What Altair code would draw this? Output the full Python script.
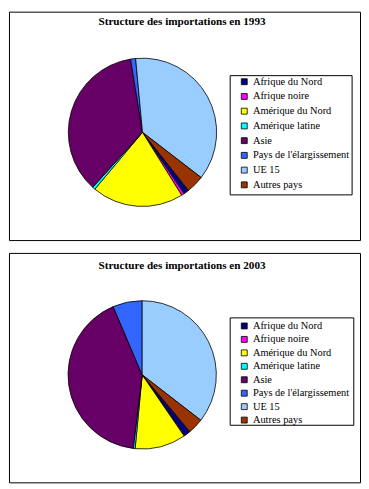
import math
import altair as alt
import pandas as pd

regions = ["Afrique du Nord", "Afrique noire", "Amérique du Nord", "Amérique latine",
           "Asie", "Pays de l'élargissement", "UE 15", "Autres pays"]
colors = ["#000080", "#FF00FF", "#FFFF00", "#00FFFF", "#660066", "#3366FF", "#99CCFF", "#993300"]
# drawing order, clockwise from the top
slice_order = ["UE 15", "Autres pays", "Afrique du Nord", "Afrique noire", "Amérique du Nord",
               "Amérique latine", "Asie", "Pays de l'élargissement"]

values_1993 = [1.2, 0.6, 20.0, 0.6, 35.8, 1.1, 37.0, 3.9]
values_2003 = [1.4, 0.15, 11.1, 0.4, 41.7, 6.4, 35.5, 3.4]

titles = ["Structure des importations en 1993", "Structure des importations en 2003"]

FONT = "Liberation Serif"


def panel(values, title, start_deg, cx, cy, leg_y, row_pad, box, height, title_y):
    df = pd.DataFrame({
        "region": regions,
        "value": values,
        "ord": [slice_order.index(r) for r in regions],
    })
    s = math.radians(start_deg)
    bx0, by0, bx1, by1 = box
    frame = alt.Chart(pd.DataFrame({"k": [0]})).mark_rect(
        fill="white", stroke="black", strokeWidth=1
    ).encode(x=alt.value(bx0), x2=alt.value(bx1), y=alt.value(by0), y2=alt.value(by1))
    pie = alt.Chart(df).mark_arc(outerRadius=75, stroke="black", strokeWidth=0.8).encode(
        theta=alt.Theta("value:Q", stack=True, scale=alt.Scale(range=[s, s + 2 * math.pi])),
        order=alt.Order("ord:Q"),
        color=alt.Color(
            "region:N",
            scale=alt.Scale(domain=regions, range=colors),
            legend=alt.Legend(
                title=None, orient="none", legendX=232.7, legendY=leg_y,
                rowPadding=row_pad,
            ),
        ),
        x=alt.value(cx),
        y=alt.value(cy),
    )
    tdf = pd.DataFrame({"t": [title]})
    ttl = alt.Chart(tdf).mark_text(font=FONT, fontSize=11.3, fontWeight="bold",
                                   color="black", baseline="middle").encode(
        text="t:N", x=alt.value(175), y=alt.value(title_y)
    )
    return alt.layer(frame, pie, ttl).properties(width=355, height=height)


p1 = panel(values_1993, titles[0], -5.3, 135, 122, 65.6, 3.9, (223.7, 64.7, 347, 185.3), 231, 10)
p2 = panel(values_2003, titles[1], 0, 134.7, 123.3, 68.6, 2.6, (223.7, 65.7, 348.7, 174.3), 232, 13)

chart = alt.vconcat(p1, p2, spacing=11).resolve_scale(color="independent").properties(
    padding=0, background="white"
).configure(font=FONT).configure_view(stroke="black", strokeWidth=1).configure_legend(
    padding=0, symbolType="square", symbolSize=36, symbolStrokeColor="black",
    symbolStrokeWidth=0.8, labelFont=FONT, labelFontSize=10.5,
    labelColor="black", labelOffset=3.5,
)

chart.save("out.html", embed_options={"renderer": "svg", "actions": False})
